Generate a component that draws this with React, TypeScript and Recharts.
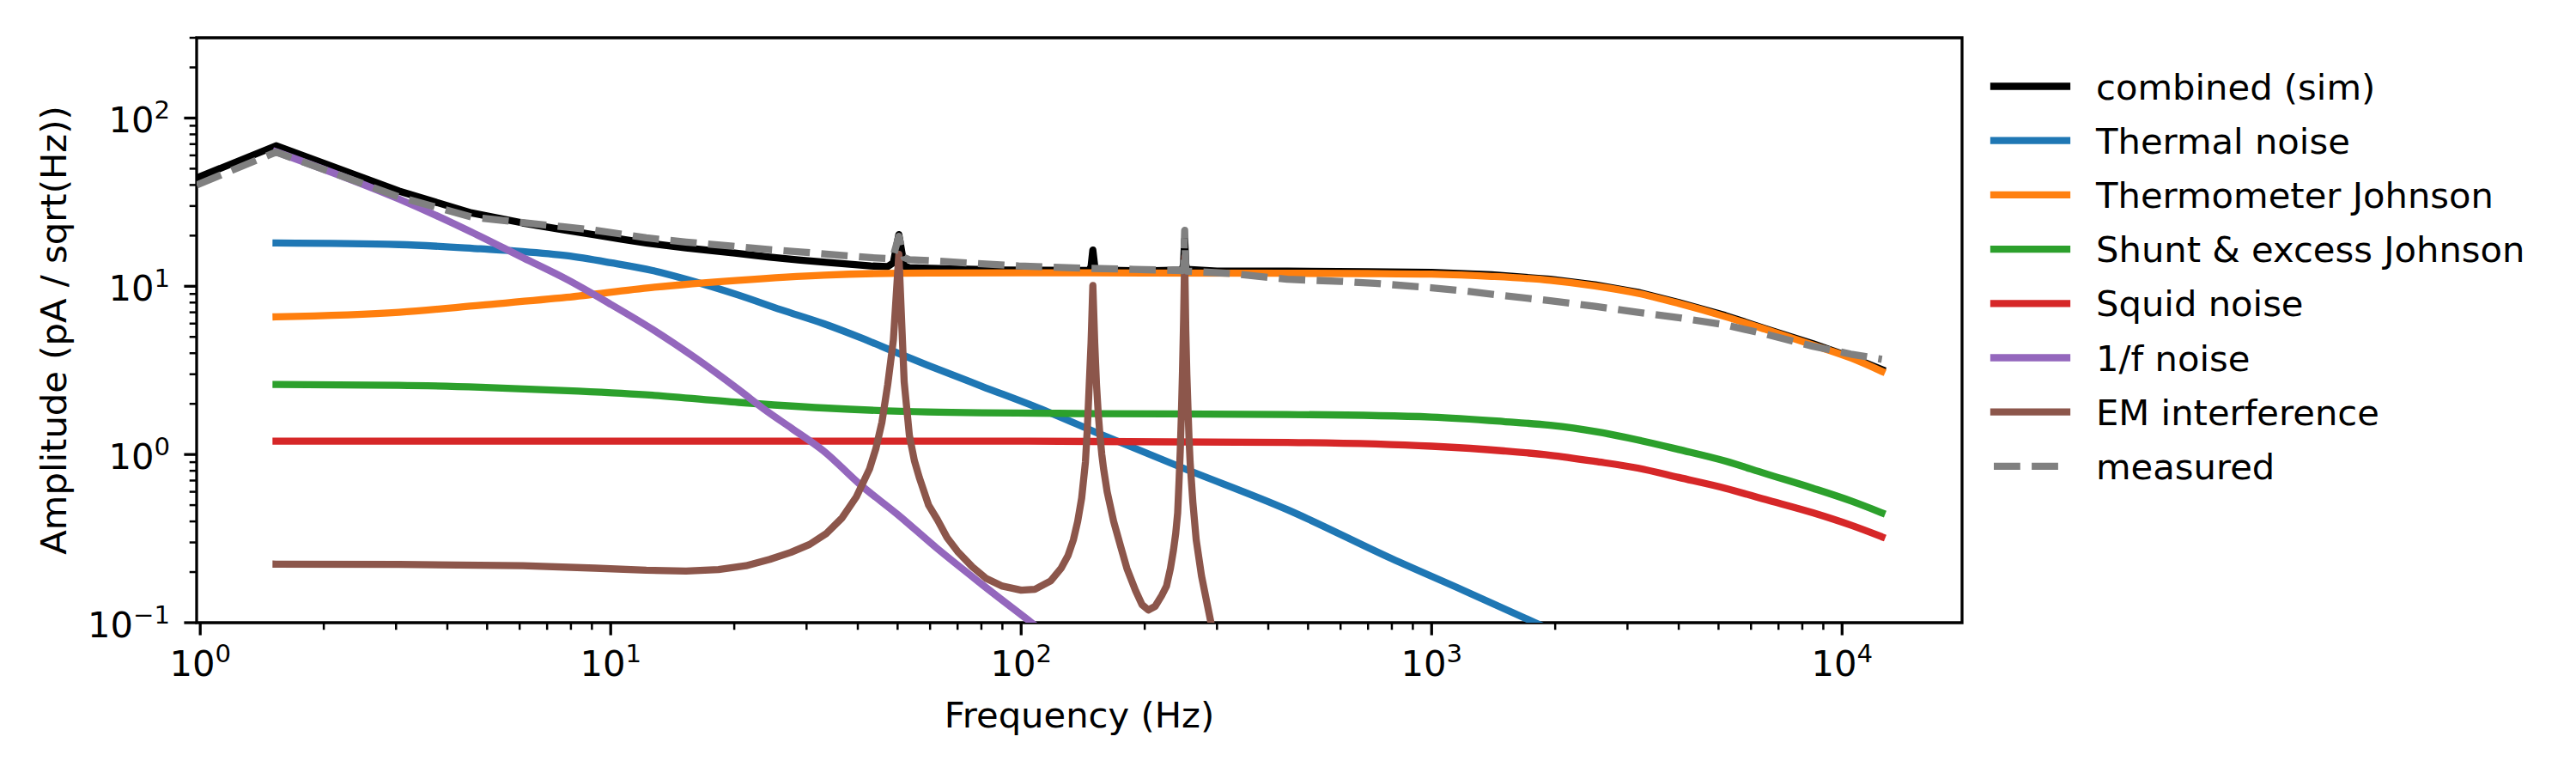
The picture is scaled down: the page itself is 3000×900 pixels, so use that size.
import React from 'react';
import { LineChart, Line, XAxis, YAxis, ReferenceArea } from 'recharts';

const FONT = '"DejaVu Sans", Verdana, sans-serif';
const FS = 41.7;

// ---- data: [frequency (Hz), amplitude (pA/sqrt(Hz))] ----
const combined: [number, number][] = [
  [0.98, 44], [1.53, 68.4], [3.05, 36.8], [4.58, 27.3], [6.1, 23.8], [7.63, 21.7], [9.16, 20.2],
  [10.68, 19.0], [12.21, 18.1], [15.26, 16.9], [19.84, 15.8], [24.41, 14.9], [29.0, 14.3], [35, 13.75],
  [43, 13.2], [47.3, 13.1], [48.83, 13.8], [50.35, 20.3], [51.88, 13.2], [53.41, 12.9], [60, 12.8],
  [90, 12.5], [146.5, 12.4], [148.0, 13.1], [149.5, 16.4], [151.1, 13.1], [152.6, 12.5], [200, 12.35],
  [247.2, 12.5], [248.7, 13.7], [250.25, 19], [251.8, 13.5], [253.3, 12.6], [300, 12.3], [445, 12.3],
  [700, 12.2], [1000, 12.1], [1400, 11.7], [1945, 11.0], [2500, 10.2], [3180, 9.2], [4000, 8.0],
  [5190, 6.7], [6500, 5.6], [8490, 4.55], [10500, 3.8], [12500, 3.2],
];

const thermal: [number, number][] = [
  [1.53, 18.1], [3.05, 17.7], [4.82, 16.7], [6.1, 16.1], [7.81, 15.2], [10, 13.8], [12.65, 12.4],
  [15.3, 11.0], [20.5, 8.86], [26, 7.25], [33.1, 5.98], [41, 4.9], [49.5, 4.05], [59.1, 3.4],
  [80, 2.55], [112, 1.86], [156, 1.32], [248, 0.83], [445, 0.47], [800, 0.24], [1200, 0.155],
  [1787, 0.1], [2500, 0.069],
];

const thermometer: [number, number][] = [
  [1.53, 6.58], [3.05, 7.0], [4.82, 7.72], [7.81, 8.59], [12.65, 9.85], [20.5, 10.86], [33.1, 11.65],
  [59.1, 12.0], [100, 12.02], [200, 12.0], [445, 11.95], [700, 11.9], [1000, 11.8], [1400, 11.45],
  [1945, 10.85], [2500, 10.05], [3180, 9.08], [4000, 7.9], [5190, 6.6], [6500, 5.55], [8490, 4.48],
  [10500, 3.75], [12500, 3.12],
];

const shunt: [number, number][] = [
  [1.53, 2.61], [3.05, 2.58], [4.82, 2.51], [8.34, 2.38], [12.65, 2.25], [20.5, 2.04], [33.1, 1.89],
  [59.1, 1.79], [150, 1.75], [445, 1.73], [1000, 1.67], [1500, 1.57], [1945, 1.49], [2500, 1.37],
  [3180, 1.22], [4000, 1.07], [5190, 0.914], [6500, 0.77], [8490, 0.63], [10500, 0.53], [12500, 0.45],
];

const squid: [number, number][] = [
  [1.53, 1.2], [10, 1.2], [100, 1.2], [445, 1.18], [1000, 1.12], [1500, 1.05], [1945, 0.99],
  [2500, 0.91], [3180, 0.83], [4000, 0.73], [5190, 0.63], [6500, 0.54], [8490, 0.45], [10500, 0.38],
  [12500, 0.324],
];

const oneOverF: [number, number][] = [
  [1.53, 63], [3.05, 33], [4.58, 21], [6.14, 14.7], [7.81, 11.0], [9.94, 7.88], [12.65, 5.54],
  [16.1, 3.74], [20.5, 2.43], [24.0, 1.81], [27.6, 1.43], [33, 1.05], [40.6, 0.66], [50, 0.44],
  [62, 0.28], [80, 0.17], [106, 0.1], [130, 0.068],
];

const emInterference: [number, number][] = [
  [1.53, 0.223], [3.05, 0.222], [6.1, 0.218], [9.16, 0.211], [12.21, 0.205], [15.26, 0.203],
  [18.31, 0.207], [21.36, 0.218], [24.41, 0.238], [27.47, 0.262], [30.52, 0.292], [33.57, 0.34],
  [36.62, 0.42], [39.67, 0.56], [42.72, 0.82], [44.25, 1.08], [45.78, 1.55], [47.3, 2.6], [48.83, 4.8],
  [50.35, 15.5], [51.88, 2.7], [53.41, 1.3], [54.93, 0.92], [56.46, 0.73], [59.5, 0.5], [62.5, 0.41],
  [66, 0.32], [70, 0.265], [76, 0.215], [82, 0.184], [90, 0.165], [100, 0.156], [108, 0.158],
  [118, 0.177], [125, 0.21], [130, 0.25], [134, 0.31], [137.3, 0.4], [140.4, 0.55], [143.4, 0.9],
  [145.0, 1.45], [146.5, 2.6], [148.0, 4.6], [149.5, 10.1], [151.1, 4.6], [152.6, 2.6], [154.1, 1.75],
  [155.6, 1.3], [157.2, 1.0], [158.7, 0.83], [162, 0.6], [168, 0.4], [175, 0.28], [181, 0.21],
  [190, 0.155], [197, 0.128], [204, 0.119], [212, 0.125], [220, 0.145], [226, 0.165], [231, 0.21],
  [235, 0.27], [238, 0.34], [240.6, 0.45], [242.5, 0.7], [244.1, 1.05], [245.6, 1.7], [247.2, 3.1],
  [248.7, 6.2], [250.25, 15], [251.8, 5.5], [253.3, 3.0], [254.9, 1.9], [256.4, 1.25], [258, 0.9],
  [262, 0.52], [267, 0.31], [275, 0.19], [282, 0.14], [290, 0.1], [300, 0.068],
];

const measured: [number, number][] = [
  [0.98, 40], [1.53, 62.7], [3.05, 34], [4.58, 25.8], [6.1, 23.9], [7.63, 22.6], [9.16, 21.5],
  [10.68, 20.4], [12.21, 19.4], [15.26, 18.3], [19.84, 17.3], [24.41, 16.5], [29.0, 16.0], [35, 15.4],
  [43, 14.8], [47.3, 14.6], [48.83, 15.2], [50.35, 19.8], [51.88, 14.8], [53.41, 14.4], [60, 14.2],
  [98.6, 13.2], [142, 12.8], [188, 12.6], [247.2, 12.4], [248.7, 12.6], [250.25, 21.5], [251.8, 12.6],
  [253.3, 12.3], [325, 11.9], [445, 11.0], [600, 10.7], [728, 10.4], [1000, 9.8], [1190, 9.4],
  [1500, 8.8], [1945, 8.2], [2500, 7.6], [3180, 7.0], [4000, 6.5], [5190, 5.9], [6500, 5.2],
  [8490, 4.4], [10500, 3.95], [12500, 3.68],
];

// ---- ticks ----
const xTicks = [
  1, 2, 3, 4, 5, 6, 7, 8, 9,
  10, 20, 30, 40, 50, 60, 70, 80, 90,
  100, 200, 300, 400, 500, 600, 700, 800, 900,
  1000, 2000, 3000, 4000, 5000, 6000, 7000, 8000, 9000,
  10000,
];
const xMajorTicks = [1, 10, 100, 1000, 10000];
const xMajorExp = ['0', '1', '2', '3', '4'];

const yTicks = [
  0.1, 0.2, 0.3, 0.4, 0.5, 0.6, 0.7, 0.8, 0.9,
  1, 2, 3, 4, 5, 6, 7, 8, 9,
  10, 20, 30, 40, 50, 60, 70, 80, 90,
  100, 200, 300,
];
const yMajorTicks = [0.1, 1, 10, 100];
const yMajorExp = ['\u22121', '0', '1', '2'];

const X_DOMAIN: [number, number] = [0.98, 19600];
const Y_DOMAIN: [number, number] = [0.1, 300];

type Series = {
  name: string;
  color: string;
  points: [number, number][];
  curve: 'linear' | 'monotone';
  dashed: boolean;
};

const series: Series[] = [
  { name: 'combined (sim)', color: '#000000', points: combined, curve: 'linear', dashed: false },
  { name: 'Thermal noise', color: '#1f77b4', points: thermal, curve: 'monotone', dashed: false },
  { name: 'Thermometer Johnson', color: '#ff7f0e', points: thermometer, curve: 'monotone', dashed: false },
  { name: 'Shunt & excess Johnson', color: '#2ca02c', points: shunt, curve: 'monotone', dashed: false },
  { name: 'Squid noise', color: '#d62728', points: squid, curve: 'monotone', dashed: false },
  { name: '1/f noise', color: '#9467bd', points: oneOverF, curve: 'monotone', dashed: false },
  { name: 'EM interference', color: '#8c564b', points: emInterference, curve: 'linear', dashed: false },
  { name: 'measured', color: '#808080', points: measured, curve: 'linear', dashed: true },
];

const LW = 8.3;
const DASH = '30.8 13.3';

const XTick = (props: any) => {
  const { x, y, payload } = props;
  const idx = xMajorTicks.indexOf(payload.value);
  const major = idx >= 0;
  const len = major ? 14.6 : 8.3;
  return (
    <g>
      <line x1={x} x2={x} y1={y} y2={y + len} stroke="#000" strokeWidth={major ? 3.3 : 2.5} />
      {major && (
        <text x={x} y={y + 62} textAnchor="middle" fontFamily={FONT} fontSize={FS} fill="#000">
          10
          <tspan dy={-16} fontSize={29.2}>{xMajorExp[idx]}</tspan>
        </text>
      )}
    </g>
  );
};

const YTick = (props: any) => {
  const { x, y, payload } = props;
  const idx = yMajorTicks.indexOf(payload.value);
  const major = idx >= 0;
  const len = major ? 14.6 : 8.3;
  return (
    <g>
      <line x1={x - len} x2={x} y1={y} y2={y} stroke="#000" strokeWidth={major ? 3.3 : 2.5} />
      {major && (
        <text x={x - 31} y={y + 17} textAnchor="end" fontFamily={FONT} fontSize={FS} fill="#000">
          10
          <tspan dy={-16} fontSize={29.2}>{yMajorExp[idx]}</tspan>
        </text>
      )}
    </g>
  );
};

const LEGEND_Y0 = 100.5;
const LEGEND_DY = 63.2;

export default function App() {
  return (
    <div style={{ position: 'absolute', left: 0, top: 0, width: 3000, height: 900, background: '#fff' }}>
      <LineChart width={3000} height={900} margin={{ top: 44, right: 715, bottom: 75, left: 129 }}>
        <XAxis
          type="number"
          dataKey="f"
          scale="log"
          domain={X_DOMAIN}
          allowDataOverflow
          ticks={xTicks}
          interval={0}
          tick={(p: any) => <XTick {...p} />}
          tickLine={false}
          axisLine={false}
          tickSize={0}
          tickMargin={0}
          height={100}
        />
        <YAxis
          type="number"
          scale="log"
          domain={Y_DOMAIN}
          allowDataOverflow
          ticks={yTicks}
          interval={0}
          tick={(p: any) => <YTick {...p} />}
          tickLine={false}
          axisLine={false}
          tickSize={0}
          tickMargin={0}
          width={100}
        />
        {series.map((s) => (
          <Line
            key={s.name}
            name={s.name}
            data={s.points.map(([f, a]) => ({ f, a }))}
            dataKey="a"
            type={s.curve}
            stroke={s.color}
            strokeWidth={LW}
            strokeLinecap={s.dashed ? 'butt' : 'square'}
            strokeLinejoin="round"
            strokeDasharray={s.dashed ? DASH : undefined}
            dot={false}
            activeDot={false}
            isAnimationActive={false}
          />
        ))}
        <ReferenceArea
          x1={X_DOMAIN[0]}
          x2={X_DOMAIN[1]}
          y1={Y_DOMAIN[0]}
          y2={Y_DOMAIN[1]}
          fill="none"
          fillOpacity={0}
          stroke="#000"
          strokeWidth={3.3}
          ifOverflow="visible"
        />
      </LineChart>
      <svg
        width={3000}
        height={900}
        style={{ position: 'absolute', left: 0, top: 0, pointerEvents: 'none' }}
      >
        <text x={1257} y={847} textAnchor="middle" fontFamily={FONT} fontSize={FS} fill="#000">
          Frequency (Hz)
        </text>
        <text
          transform="translate(76.5, 384.5) rotate(-90)"
          textAnchor="middle"
          fontFamily={FONT}
          fontSize={FS}
          fill="#000"
        >
          Amplitude (pA / sqrt(Hz))
        </text>
        {series.map((s, i) => {
          const cy = LEGEND_Y0 + i * LEGEND_DY;
          return (
            <g key={s.name}>
              <line
                x1={2322}
                x2={2407}
                y1={cy}
                y2={cy}
                stroke={s.color}
                strokeWidth={LW}
                strokeLinecap={s.dashed ? 'butt' : 'square'}
                strokeDasharray={s.dashed ? DASH : undefined}
              />
              <text x={2441} y={cy + 15} fontFamily={FONT} fontSize={FS} fill="#000">
                {s.name}
              </text>
            </g>
          );
        })}
      </svg>
    </div>
  );
}
